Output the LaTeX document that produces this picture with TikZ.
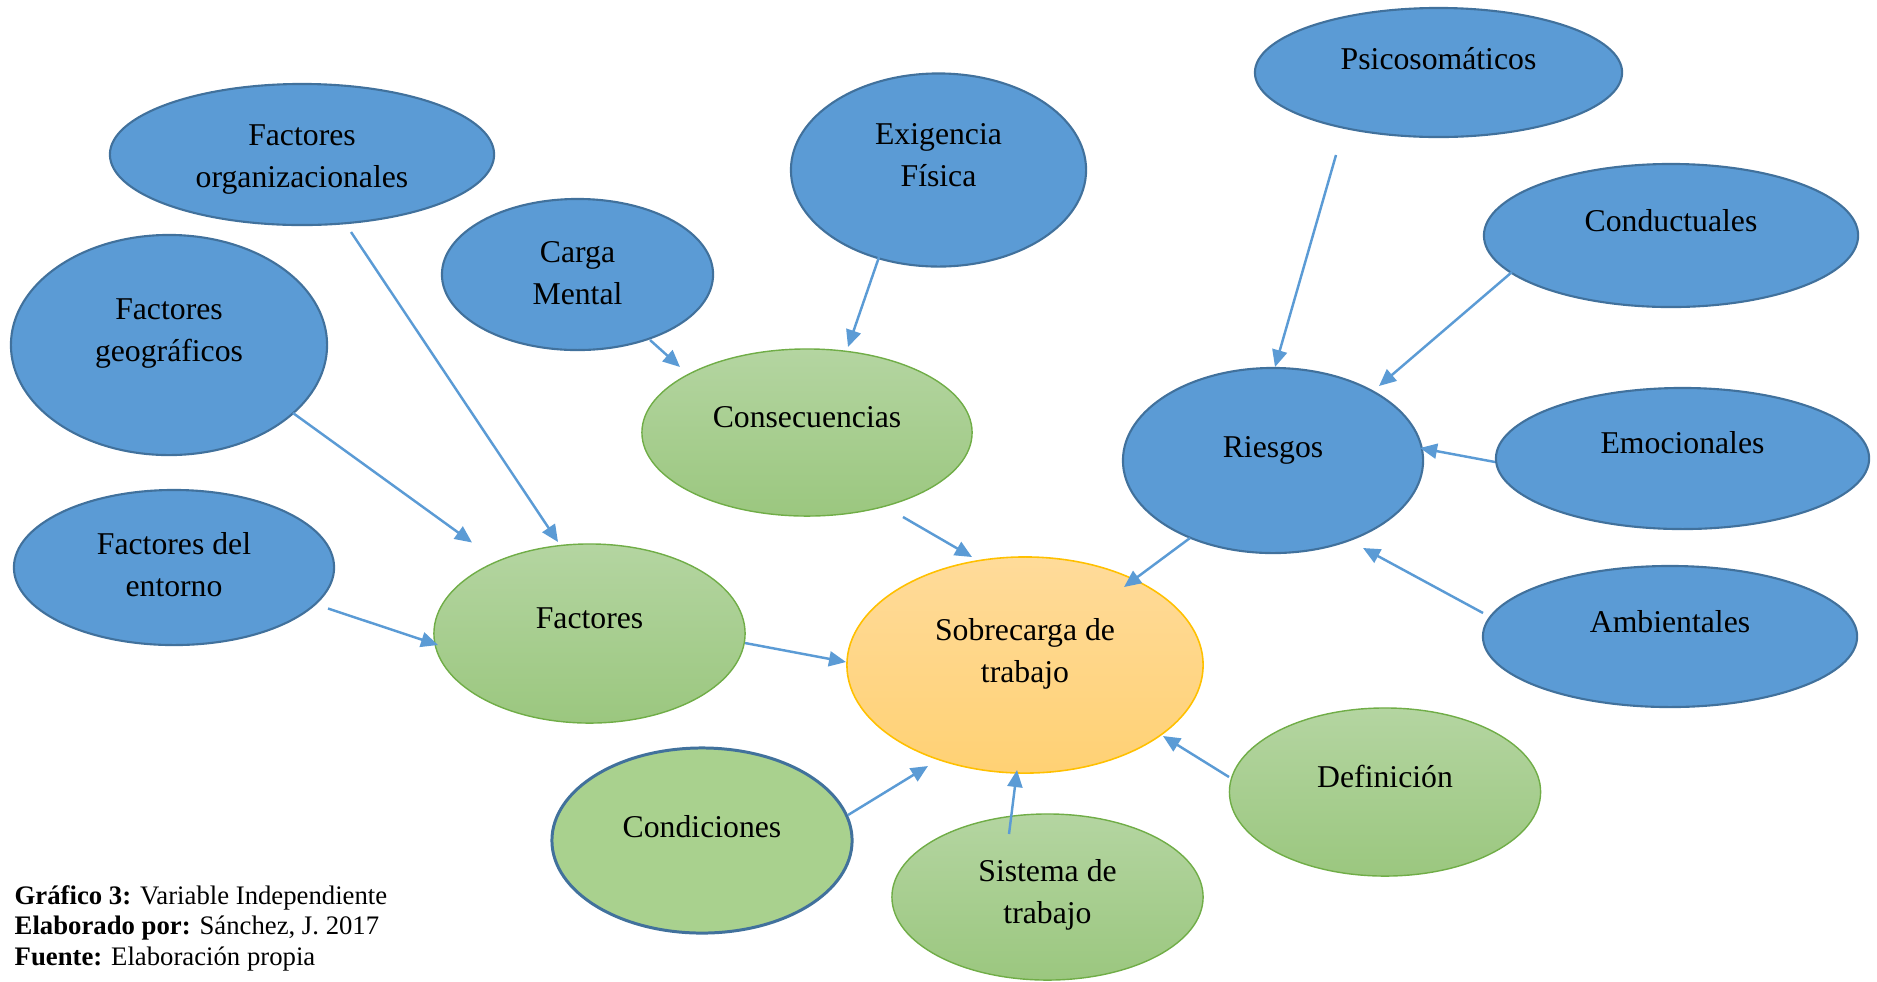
\documentclass[tikz,border=0pt]{standalone}
\usepackage{fontspec}
\setmainfont{Liberation Serif}
\usetikzlibrary{shapes.geometric,arrows.meta}

\definecolor{bubbleBlue}{HTML}{5B9BD5}
\definecolor{blueEdge}{HTML}{41719C}
\definecolor{greenTop}{HTML}{B4D5A1}
\definecolor{greenBot}{HTML}{9BC77F}
\definecolor{greenFlat}{HTML}{A9D18E}
\definecolor{greenEdge}{HTML}{70AD47}
\definecolor{orangeTop}{HTML}{FFDB9A}
\definecolor{orangeBot}{HTML}{FFD174}
\definecolor{orangeEdge}{HTML}{FFC000}
\definecolor{linkBlue}{HTML}{5B9BD5}

% two centred lines whose first baseline is the box baseline
\newcommand{\twoline}[2]{\begin{tabular}[t]{@{}c@{}}#1\\#2\end{tabular}}

\begin{document}
\begin{tikzpicture}[x=0.01cm,y=-0.01cm,
  bubble/.style={ellipse, inner sep=0pt, outer sep=0pt},
  blueb/.style={bubble, fill=bubbleBlue, draw=blueEdge, line width=0.6pt},
  greenb/.style={bubble, top color=greenTop, bottom color=greenBot, draw=greenEdge, line width=0.4pt},
  condb/.style={bubble, fill=greenFlat, draw=blueEdge, line width=0.85pt},
  orangeb/.style={bubble, top color=orangeTop, bottom color=orangeBot, draw=orangeEdge, line width=0.45pt},
  lbl/.style={anchor=base, inner sep=0pt, font=\fontsize{9.02pt}{12.1pt}\selectfont},
  note/.style={anchor=base west, inner sep=0pt, font=\fontsize{7.6pt}{8.8pt}\selectfont},
  link/.style={draw=linkBlue, line width=0.7pt, -{Triangle[length=0.17cm,width=0.15cm]}}
]
\useasboundingbox (0,0) rectangle (1877,981);

% ---- bubbles ----
\node[blueb, minimum width=3.84cm, minimum height=1.41cm] (orgF) at (302,154.5) {};
\node[blueb, minimum width=3.16cm, minimum height=2.20cm] (geoF) at (169,345) {};
\node[blueb, minimum width=3.20cm, minimum height=1.55cm] (entF) at (174,567.5) {};
\node[blueb, minimum width=2.71cm, minimum height=1.51cm] (carga) at (577.5,274.5) {};
\node[blueb, minimum width=2.95cm, minimum height=1.93cm] (exig) at (938.5,170) {};
\node[greenb, minimum width=3.30cm, minimum height=1.67cm] (cons) at (807,432.5) {};
\node[greenb, minimum width=3.11cm, minimum height=1.79cm] (fact) at (589.5,633.5) {};
\node[orangeb, minimum width=3.56cm, minimum height=2.16cm] (sobre) at (1025,665) {};
\node[condb, minimum width=3.00cm, minimum height=1.85cm] (condi) at (702,840.5) {};
\node[greenb, minimum width=3.11cm, minimum height=1.66cm] (siste) at (1047.5,897) {};
\node[greenb, minimum width=3.11cm, minimum height=1.68cm] (defin) at (1385,792) {};
\node[blueb, minimum width=3.00cm, minimum height=1.85cm] (riesg) at (1273,460.5) {};
\node[blueb, minimum width=3.67cm, minimum height=1.29cm] (psico) at (1438.5,72.5) {};
\node[blueb, minimum width=3.74cm, minimum height=1.43cm] (condu) at (1671,235.5) {};
\node[blueb, minimum width=3.73cm, minimum height=1.41cm] (emoc) at (1682.5,458.5) {};
\node[blueb, minimum width=3.74cm, minimum height=1.41cm] (ambie) at (1670,636.5) {};

% ---- bubble texts ----
\node[lbl] (orgF-t)  at ([shift={(0,-9.5)}]orgF.center)  {\twoline{Factores}{organizacionales}};
\node[lbl] (geoF-t)  at ([shift={(0,-26)}]geoF.center)   {\twoline{Factores}{geográficos}};
\node[lbl] (entF-t)  at ([shift={(0,-13.5)}]entF.center) {\twoline{Factores del}{entorno}};
\node[lbl] (carga-t) at ([shift={(0,-12.5)}]carga.center){\twoline{Carga}{Mental}};
\node[lbl] (exig-t)  at ([shift={(0,-26)}]exig.center)   {\twoline{Exigencia}{Física}};
\node[lbl] (cons-t)  at ([shift={(0,-5.5)}]cons.center)  {Consecuencias};
\node[lbl] (fact-t)  at ([shift={(0,-5.5)}]fact.center)  {Factores};
\node[lbl] (sobre-t) at ([shift={(0,-25)}]sobre.center)  {\twoline{Sobrecarga de}{trabajo}};
\node[lbl] (condi-t) at ([shift={(0,-3.5)}]condi.center) {Condiciones};
\node[lbl] (siste-t) at ([shift={(0,-16)}]siste.center)  {\twoline{Sistema de}{trabajo}};
\node[lbl] (defin-t) at ([shift={(0,-5)}]defin.center)   {Definición};
\node[lbl] (riesg-t) at ([shift={(0,-3.5)}]riesg.center) {Riesgos};
\node[lbl] (psico-t) at ([shift={(0,-3.5)}]psico.center) {Psicosomáticos};
\node[lbl] (condu-t) at ([shift={(0,-4.5)}]condu.center) {Conductuales};
\node[lbl] (emoc-t)  at ([shift={(0,-5.5)}]emoc.center)  {Emocionales};
\node[lbl] (ambie-t) at ([shift={(0,-4.5)}]ambie.center) {Ambientales};

% ---- connectors ----
\draw[link] ([shift={(49,77.5)}]orgF.center)   -- ([shift={(-31.5,-91.5)}]fact.center);
\draw[link] ([shift={(124,68)}]geoF.center)    -- ([shift={(-117.5,-91)}]fact.center);
\draw[link] ([shift={(154,41)}]entF.center)    -- ([shift={(-151.5,11.5)}]fact.center);
\draw[link] ([shift={(72.5,65.5)}]carga.center) -- ([shift={(-127,-65.5)}]cons.center);
\draw[link] ([shift={(-59.5,87)}]exig.center)  -- ([shift={(41,-85.5)}]cons.center);
\draw[link] ([shift={(96,84.5)}]cons.center)   -- ([shift={(-53,-108)}]sobre.center);
\draw[link] ([shift={(155.5,9.5)}]fact.center) -- ([shift={(-179,-3)}]sobre.center);
\draw[link] ([shift={(146,-25.5)}]condi.center) -- ([shift={(-97,101)}]sobre.center);
\draw[link] ([shift={(-38.5,-63)}]siste.center) -- ([shift={(-8,105)}]sobre.center);
\draw[link] ([shift={(-156,-15)}]defin.center) -- ([shift={(138,71)}]sobre.center);
\draw[link] ([shift={(-83,77.5)}]riesg.center) -- ([shift={(99,-78)}]sobre.center);
\draw[link] ([shift={(-102.5,82.5)}]psico.center) -- ([shift={(2,-93.5)}]riesg.center);
\draw[link] ([shift={(-159,36.5)}]condu.center) -- ([shift={(106,-74.5)}]riesg.center);
\draw[link] ([shift={(-187.5,3.5)}]emoc.center) -- ([shift={(147,-12.5)}]riesg.center);
\draw[link] ([shift={(-187,-23.5)}]ambie.center) -- ([shift={(90,87.5)}]riesg.center);

% ---- caption ----
\node[note] (caption) at (14,904) {\begin{tabular}[t]{@{}l@{}}
\textbf{Gráfico 3:} Variable Independiente\\
\textbf{Elaborado por:} Sánchez, J. 2017\\
\textbf{Fuente:} Elaboración propia
\end{tabular}};
\end{tikzpicture}
\end{document}
